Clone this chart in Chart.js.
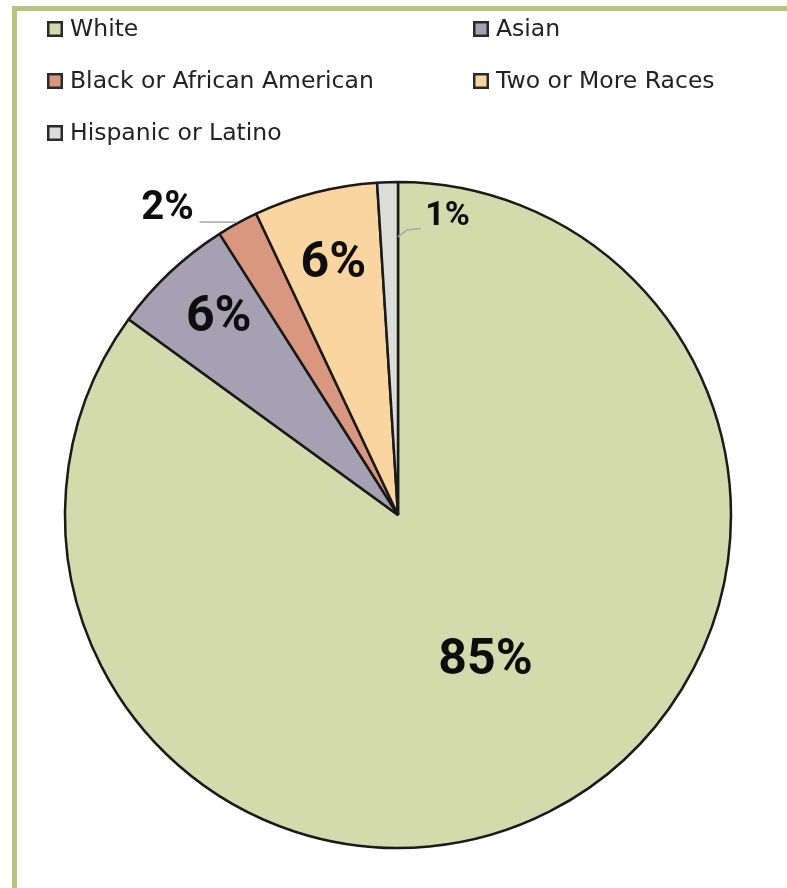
<!DOCTYPE html>
<html>
<head>
<meta charset="utf-8">
<script src="https://cdn.jsdelivr.net/npm/chart.js@4.4.1/dist/chart.umd.min.js"></script>
<style>
  html, body { margin: 0; padding: 0; background: #ffffff; }
  #wrap { position: relative; width: 787px; height: 888px; overflow: hidden; }
  #frame {
    position: absolute; left: 12px; top: 6px; right: -20px; bottom: -20px;
    border-top: 5px solid #b6c47c; border-left: 5px solid #b6c47c;
  }
  canvas { position: absolute; left: 0; top: 0; }
</style>
</head>
<body>
<div id="wrap">
  <div id="frame"></div>
  <canvas id="c" width="787" height="888"></canvas>
</div>
<script>
// Enrollment by race / ethnicity (percent of total)
const categories = ['White', 'Asian', 'Black or African American', 'Two or More Races', 'Hispanic or Latino'];
const shares = [85, 6, 2, 6, 1];
const sliceColors = ['#d3dbad', '#a5a1b2', '#d9977f', '#fad5a0', '#dcdcd8'];

const LABEL_FONT = 'Roboto, "DejaVu Sans", sans-serif';

// Where each percentage sits: radial factor, angular nudge (deg), font size
const labelPlacement = [
  { rf: 0.51, dAng: -4,   size: 50 },
  { rf: 0.80, dAng: 0.9,  size: 50 },
  { rf: 1.153, dAng: -8.1, size: 40 },
  { rf: 0.78, dAng: 0,    size: 50 },
  { rf: 0.912, dAng: 11.2, size: 34 }
];

// Two-column legend drawn above the pie
const legendGrid = {
  id: 'gridLegend',
  afterDraw(chart) {
    const ctx = chart.ctx;
    const cols = [47, 473];
    const top = 29, step = 52, box = 16;
    ctx.save();
    ctx.font = '23.5px "DejaVu Sans", Verdana, sans-serif';
    ctx.textBaseline = 'middle';
    ctx.textAlign = 'left';
    chart.data.labels.forEach((name, i) => {
      const x = cols[i % 2];
      const y = top + Math.floor(i / 2) * step;
      ctx.fillStyle = chart.data.datasets[0].backgroundColor[i];
      ctx.fillRect(x, y - box / 2, box, box);
      ctx.lineWidth = 2.5;
      ctx.strokeStyle = '#2a2a2a';
      ctx.strokeRect(x + 1.25, y - box / 2 + 1.25, box - 2.5, box - 2.5);
      ctx.fillStyle = '#222222';
      ctx.fillText(name, x + 23, y + 1);
    });
    ctx.restore();
  }
};

// Percentage labels plus leader lines for the two thin slices
const sliceLabels = {
  id: 'sliceLabels',
  afterDatasetsDraw(chart) {
    const ctx = chart.ctx;
    const meta = chart.getDatasetMeta(0);
    const values = chart.data.datasets[0].data;
    ctx.save();
    meta.data.forEach((arc, i) => {
      const p = arc.getProps(['x', 'y', 'startAngle', 'endAngle', 'outerRadius'], true);
      const mid = (p.startAngle + p.endAngle) / 2;
      const pl = labelPlacement[i];
      const a = mid + pl.dAng * Math.PI / 180;
      const lx = p.x + Math.cos(a) * p.outerRadius * pl.rf;
      const ly = p.y + Math.sin(a) * p.outerRadius * pl.rf;

      // leader lines
      ctx.strokeStyle = '#a8a8a8';
      ctx.lineWidth = 1.5;
      if (i === 2) {
        const ex = p.x + Math.cos(mid) * (p.outerRadius + 1);
        const ey = p.y + Math.sin(mid) * (p.outerRadius + 1);
        ctx.beginPath();
        ctx.moveTo(lx + 32, ly + 14);
        ctx.lineTo(ex, ey);
        ctx.stroke();
      } else if (i === 4) {
        const ex = p.x + Math.cos(p.endAngle) * p.outerRadius * 0.835;
        const ey = p.y + Math.sin(p.endAngle) * p.outerRadius * 0.835;
        ctx.beginPath();
        ctx.moveTo(lx - 27, ly + 13);
        ctx.lineTo(ex + 9, ey - 7);
        ctx.lineTo(ex, ey);
        ctx.stroke();
      }

      ctx.font = 'bold ' + pl.size + 'px ' + LABEL_FONT;
      ctx.textAlign = 'center';
      ctx.textBaseline = 'middle';
      ctx.fillStyle = '#0d0d0d';
      ctx.fillText(Math.round(values[i]) + '%', lx, ly + 1);
    });
    ctx.restore();
  }
};

new Chart(document.getElementById('c'), {
  type: 'pie',
  data: {
    labels: categories,
    datasets: [{
      data: shares,
      backgroundColor: sliceColors,
      borderColor: '#1a1a1a',
      borderWidth: 2.5
    }]
  },
  options: {
    responsive: false,
    animation: false,
    radius: 333,
    layout: { padding: { left: 9, right: 0, top: 150, bottom: 8 } },
    plugins: {
      legend: { display: false },
      tooltip: { enabled: false }
    }
  },
  plugins: [sliceLabels, legendGrid]
});
</script>
</body>
</html>
